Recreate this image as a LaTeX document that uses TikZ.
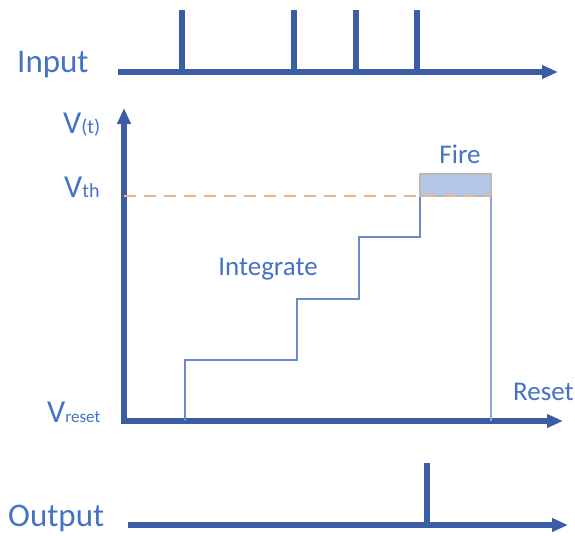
\documentclass[tikz,border=0pt]{standalone}
\usepackage{fontspec}
\setmainfont{Carlito}
\usetikzlibrary{arrows.meta, positioning}
\definecolor{cdark}{HTML}{3A5DA6}
\definecolor{ctext}{HTML}{4472C4}
\definecolor{cstep}{HTML}{6A8BC8}
\definecolor{cfire}{HTML}{B4C7E7}
\definecolor{cdash}{HTML}{F4B183}
\tikzset{
  axis/.style={draw=cdark, line width=5.5pt, -{Triangle[length=16pt, width=13pt]}},
  spike/.style={draw=cdark, line width=5.5pt},
  trace/.style={draw=cstep, line width=1.4pt},
  tlabel/.style={text=ctext, inner sep=0pt, font=\fontsize{27}{30}\selectfont},
  biglabel/.style={text=ctext, inner sep=0pt, font=\fontsize{33}{36}\selectfont},
}
\newcommand{\vname}[2][19]{{\fontsize{32}{34}\selectfont V}{\fontsize{#1}{20}\selectfont #2}}

\begin{document}
\begin{tikzpicture}[x=1pt, y=-1pt]
  \useasboundingbox (0,0) rectangle (575,535);
  % input spikes
  \coordinate (in0) at (118,72);
  \coordinate (in1) at (558,72);
  \draw[axis] (in0) -- (in1);
  \foreach \t [count=\i] in {182,294,356,417} {
    \coordinate (sp\i) at (\t,10);
    \draw[spike] (sp\i) -- (sp\i |- in0);
  }
  \node[biglabel, anchor=base west] (input) at (17,72) {Input};
  % membrane potential
  \coordinate (o) at (124,421);
  \coordinate (vtop) at (124,108);
  \coordinate (tend) at (563,421);
  \draw[spike] (o) -- ++(0,3);
  \draw[axis] (o) -- (vtop);
  \draw[axis] (o) -- (tend);
  \coordinate (s0) at (185,421);
  \coordinate (s1) at (297,360);
  \coordinate (s2) at (359,299);
  \coordinate (s3) at (420,237);
  \coordinate (fa) at (420,174);
  \coordinate (fb) at (491,196);
  \draw[trace] (s0) |- (s1) |- (s2) |- (s3) -- (fa |- fb);
  \draw[fill=cfire, draw=gray!55, line width=1.4pt] (fa) rectangle (fb);
  \draw[trace, draw=cstep!75] (fb) -- (fb |- o);
  \draw[cdash, line width=1.4pt, dash pattern=on 12pt off 8pt] (o |- fb) -- (fb);
  \node[anchor=base west, text=ctext, inner sep=0pt] (vt) at (63,133) {\vname[20]{(t)}};
  \node[anchor=base west, text=ctext, inner sep=0pt] (vth) at (64,197) {\vname[20]{th}};
  \node[anchor=base west, text=ctext, inner sep=0pt] (vreset) at (47,422) {\vname[17]{reset}};
  \node[tlabel, anchor=base] (fire) at (460,163) {Fire};
  \node[tlabel, anchor=base] (integrate) at (268,275) {Integrate};
  \node[tlabel, anchor=base west] (reset) at (513,400) {Reset};
  % output spike
  \coordinate (out0) at (128,525);
  \coordinate (out1) at (568,525);
  \draw[axis] (out0) -- (out1);
  \coordinate (os) at (427,463);
  \draw[spike] (os) -- (os |- out0);
  \node[biglabel, anchor=base west] (output) at (8,526) {Output};
\end{tikzpicture}
\end{document}
